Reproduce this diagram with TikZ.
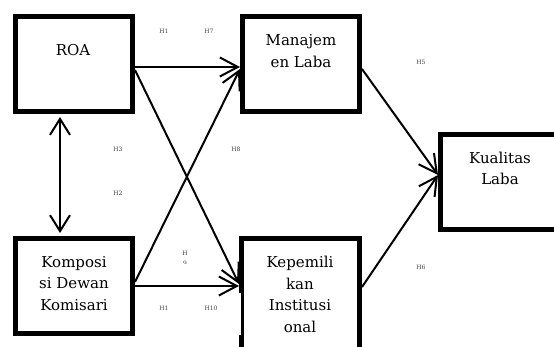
\documentclass[tikz,border=0pt]{standalone}
\usepackage{fontspec}
\setmainfont{DejaVu Serif}
\usetikzlibrary{arrows.meta,calc}
\begin{document}
\begin{tikzpicture}[x=1pt,y=-1pt,
 box/.style={draw,line width=4.7pt,minimum width=117.3pt,minimum height=95.3pt,inner sep=0pt},
 lbl/.style={font=\fontsize{15}{21.5}\selectfont,align=center,anchor=base,inner sep=0pt},
 hyp/.style={font=\fontsize{6}{7}\selectfont,text=black!75,inner sep=0pt},
 conn/.style={line width=2pt,-{Straight Barb[length=18pt,width=19pt]}},
 bconn/.style={line width=2pt,{Straight Barb[length=16pt,width=20pt]}-{Straight Barb[length=16pt,width=20pt]}},
]
\clip (0,0) rectangle (554,347);
% boxes
\node[box] (roa) at (74,64) {};
\node[box] (man) at (301,64) {};
\node[box,minimum width=217.3pt] (kual) at (549,182) {};
\node[box] (kom) at (74,286) {};
\node[box,minimum width=118.3pt,minimum height=159.3pt] (kep) at (300.5,318) {};
\fill[white] (237,293) rectangle (241,335);
% texts (anchor base = last line)
\node[lbl] (troa) at (73,56) {ROA};
\node[lbl] (tman) at (301,67.5) {Manajem\\en Laba};
\node[lbl] (tkual) at (500,185) {Kualitas\\Laba};
\node[lbl] (tkom) at (74,310) {Komposi\\si Dewan\\Komisari};
\node[lbl] (tkep) at (300,332) {Kepemili\\kan\\Institusi\\onal};
% connectors
\draw[conn] ($(roa.east)+(0,3)$) -- ($(man.west)+(0,3)$);
\draw[conn] ($(roa.east)+(0,6)$) -- ($(kep.west)+(0,-34)$);
\draw[conn] ($(kom.east)+(0,-4)$) -- ($(man.west)+(0,5)$);
\draw[conn] ($(kom.east)+(0,0)$) -- ($(kep.west)+(0,-32)$);
\draw[bconn] ($(roa.south)+(-14,3)$) -- ($(kom.north)+(-14,-3)$);
\draw[conn] ($(man.east)+(0,5)$) -- ($(kual.west)+(0,-7)$);
\draw[conn] ($(kep.east)+(0,-31)$) -- ($(kual.west)+(0,-7)$);
% hypothesis labels
\node[hyp] (h1a) at (164,31) {H1};
\node[hyp] (h7) at (209,31) {H7};
\node[hyp] (h3) at (118,149) {H3};
\node[hyp] (h8) at (236,149) {H8};
\node[hyp] (h2) at (118,193) {H2};
\node[hyp] (h9) at (185,253) {H};
\begin{scope}
\clip (175,258) rectangle (195,263.3);
\node[hyp] (h9b) at (185,263.5) {9};
\end{scope}
\node[hyp] (h1b) at (164,308) {H1};
\node[hyp] (h10) at (211,308) {H10};
\node[hyp] (h5) at (421,62) {H5};
\node[hyp] (h6) at (421,267) {H6};
\end{tikzpicture}
\end{document}
